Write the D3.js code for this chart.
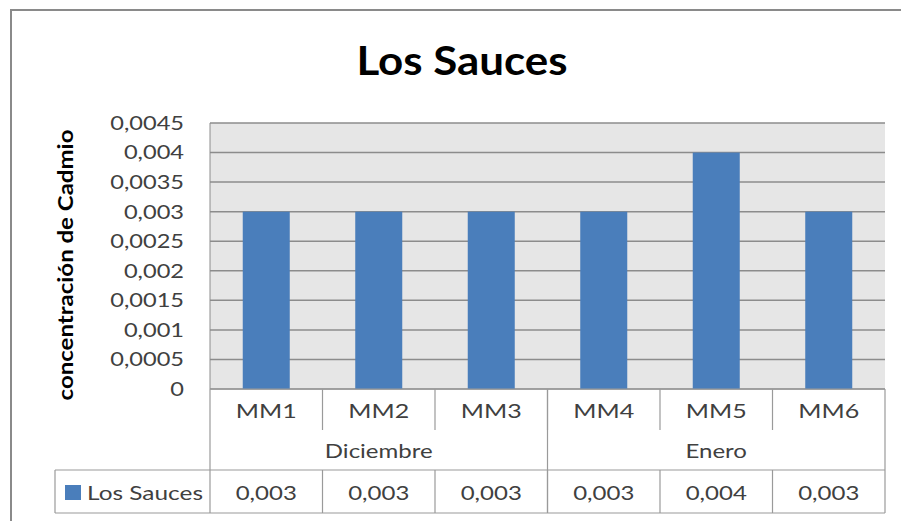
<!DOCTYPE html>
<html><head><meta charset="utf-8">
<script src="https://cdn.jsdelivr.net/npm/d3@7"></script>
<style>body{margin:0;background:#fff}svg{display:block}text{font-family:Lato,"Open Sans",sans-serif;fill:#404040}</style>
</head><body><svg id="c" width="901" height="521"></svg>
<script>
const categories = ["MM1","MM2","MM3","MM4","MM5","MM6"];
const groups = [{name:"Diciembre", from:0, to:3},{name:"Enero", from:3, to:6}];
const values = [0.003,0.003,0.003,0.003,0.004,0.003];
const valueLabels = ["0,003","0,003","0,003","0,003","0,004","0,003"];
const seriesName = "Los Sauces";
const yTicks = [0,0.0005,0.001,0.0015,0.002,0.0025,0.003,0.0035,0.004,0.0045];
const tickLabels = ["0","0,0005","0,001","0,0015","0,002","0,0025","0,003","0,0035","0,004","0,0045"];

const svg = d3.select("#c");
const L=210, R=885, T=123, B=389;
const x = d3.scaleBand().domain(categories).range([L,R]).paddingInner(0).paddingOuter(0);
const y = d3.scaleLinear().domain([0,0.0045]).range([B,T]);

function stretch(sel, k){
  sel.each(function(){
    const n=this.getComputedTextLength();
    d3.select(this).attr("textLength", n*k).attr("lengthAdjust","spacingAndGlyphs");
  });
}

// outer chart border
svg.append("path").attr("d","M11,521 V10 H901").attr("fill","none").attr("stroke","#8a8a8a").attr("stroke-width",2);

// title
svg.append("text").attr("x",462).attr("y",75).attr("text-anchor","middle")
  .style("font-size","41px").style("font-weight","bold").style("fill","#000").text("Los Sauces")
  .call(stretch,1.07);

// plot bg
svg.append("rect").attr("x",L).attr("y",T).attr("width",R-L).attr("height",B-T).attr("fill","#e6e6e6");
// gridlines
svg.append("g").selectAll("line").data(yTicks).join("line")
  .attr("x1",L).attr("x2",R).attr("y1",d=>y(d)).attr("y2",d=>y(d))
  .attr("stroke","#8c8c8c").attr("stroke-width",1.5);
svg.append("line").attr("x1",L).attr("x2",L).attr("y1",T).attr("y2",B).attr("stroke","#8c8c8c");

// bars
const bw = 47;
svg.append("g").selectAll("rect").data(values).join("rect")
  .attr("x",(d,i)=>x(categories[i])+x.bandwidth()/2-bw/2)
  .attr("width",bw)
  .attr("y",d=>y(d)).attr("height",d=>B-y(d))
  .attr("fill","#4a7ebb");

const fs="20px", K=1.2;
// y axis labels
const yAxis = d3.axisLeft(y).tickValues(yTicks).tickFormat((d,i)=>tickLabels[i]).tickSize(0).tickPadding(0);
const ga = svg.append("g").attr("transform","translate(184,0)").call(yAxis);
ga.select(".domain").remove();
ga.selectAll("text").style("font-size",fs).style("font-family","Lato,'Open Sans',sans-serif").attr("fill","#404040").call(stretch,1.18);

// y title
svg.append("text").attr("transform","translate(73,265) rotate(-90)").attr("text-anchor","middle")
  .style("font-size","20px").style("font-weight","bold").style("fill","#000").text("concentración de Cadmio")
  .call(stretch,1.2);

// data table
const tc = "#9a9a9a";
const tbl = svg.append("g").attr("stroke",tc).attr("stroke-width",1.2);
const r1=389, r2=430, r3=470, r4=513, legL=55;
categories.forEach((c,i)=>{ if(i>0) tbl.append("line").attr("x1",x(c)).attr("x2",x(c)).attr("y1",r1).attr("y2",r2); });
groups.forEach(g=>{ const xs = x(categories[g.from]); tbl.append("line").attr("x1",xs).attr("x2",xs).attr("y1",r1).attr("y2",r4); });
tbl.append("line").attr("x1",R).attr("x2",R).attr("y1",r1).attr("y2",r4);
categories.forEach((c,i)=>{ if(i>0) tbl.append("line").attr("x1",x(c)).attr("x2",x(c)).attr("y1",r3).attr("y2",r4); });
tbl.append("line").attr("x1",L).attr("x2",R).attr("y1",r1).attr("y2",r1);
tbl.append("line").attr("x1",legL).attr("x2",R).attr("y1",r3).attr("y2",r3);
tbl.append("line").attr("x1",legL).attr("x2",R).attr("y1",r4).attr("y2",r4);
tbl.append("line").attr("x1",legL).attr("x2",legL).attr("y1",r3).attr("y2",r4);

svg.append("g").selectAll("text").data(categories).join("text")
  .attr("x",d=>x(d)+x.bandwidth()/2).attr("y",418).attr("text-anchor","middle").style("font-size",fs).text(d=>d)
  .call(stretch,1.25);
svg.append("g").selectAll("text").data(groups).join("text")
  .attr("x",g=>(x(categories[g.from])+x(categories[g.to-1])+x.bandwidth())/2).attr("y",458)
  .attr("text-anchor","middle").style("font-size",fs).text(g=>g.name).call(stretch,K);
svg.append("g").selectAll("text").data(valueLabels).join("text")
  .attr("x",(d,i)=>x(categories[i])+x.bandwidth()/2).attr("y",500).attr("text-anchor","middle").style("font-size",fs).text(d=>d)
  .call(stretch,K);
// legend key
svg.append("rect").attr("x",65).attr("y",485).attr("width",16).attr("height",15).attr("fill","#4a7ebb");
svg.append("text").attr("x",87).attr("y",500).style("font-size",fs).text(seriesName).call(stretch,1.22);
</script></body></html>
